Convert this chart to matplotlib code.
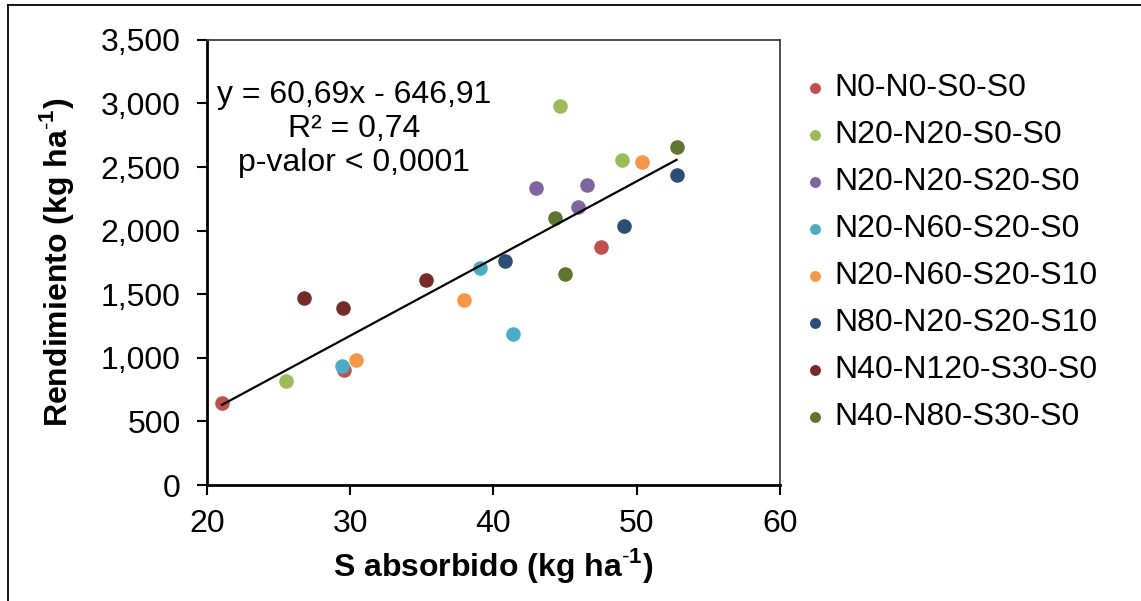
import matplotlib
matplotlib.use("Agg")
import matplotlib.pyplot as plt
from matplotlib.lines import Line2D
from matplotlib.ticker import FuncFormatter

plt.rcParams["font.family"] = ["Liberation Sans", "DejaVu Sans"]
plt.rcParams["mathtext.fontset"] = "custom"
plt.rcParams["mathtext.rm"] = "Liberation Sans"
plt.rcParams["mathtext.bf"] = "Liberation Sans:bold"

# Datos
tratamientos = ["N0-N0-S0-S0", "N20-N20-S0-S0", "N20-N20-S20-S0", "N20-N60-S20-S0",
                "N20-N60-S20-S10", "N80-N20-S20-S10", "N40-N120-S30-S0", "N40-N80-S30-S0"]
colores = ["#C0504D", "#9BBB59", "#8064A2", "#4BACC6",
           "#F79646", "#2C4D75", "#772C2A", "#5F7530"]

s_abs = [
    [21.05, 29.55, 47.5],
    [25.5, 44.65, 49.0],
    [42.95, 46.55, 45.9],
    [29.4, 39.1, 41.35],
    [30.4, 37.95, 50.4],
    [40.8, 49.15, 52.8],
    [26.8, 29.5, 35.3],
    [44.3, 45.0, 52.8],
]
rend = [
    [645, 905, 1870],
    [820, 2980, 2555],
    [2335, 2360, 2190],
    [935, 1705, 1185],
    [985, 1455, 2540],
    [1765, 2040, 2440],
    [1470, 1395, 1610],
    [2100, 1660, 2655],
]

pendiente = 60.69
intercepto = -646.91
x_min, x_max = 21.05, 52.8

fs = 23

fig = plt.figure(figsize=(11.41, 6.01), dpi=100)
ax = fig.add_axes([0.1814, 0.193, 0.502, 0.7406])

for nombre, c, xs, ys in zip(tratamientos, colores, s_abs, rend):
    ax.scatter(xs, ys, s=110, color=c, label=nombre, linewidths=0, zorder=3)

ax.plot([x_min, x_max], [pendiente * x_min + intercepto, pendiente * x_max + intercepto],
        color="black", lw=1.6, zorder=4)

ax.text(30.27, 2800, "y = 60,69x - 646,91\nR² = 0,74\np-valor < 0,0001",
        ha="center", va="center", fontsize=fs, linespacing=1.17)

ax.set_xlim(20, 60)
ax.set_ylim(0, 3500)
ax.set_xticks([20, 30, 40, 50, 60])
ax.set_yticks(range(0, 3501, 500))
ax.yaxis.set_major_formatter(FuncFormatter(lambda v, p: f"{int(v):,}"))
ax.tick_params(direction="out", length=7, width=1.5, labelsize=fs)
ax.tick_params(axis="y", pad=12)
ax.tick_params(axis="x", pad=10)

for lado in ["left", "bottom"]:
    ax.spines[lado].set_linewidth(2)
    ax.spines[lado].set_color("black")
for lado in ["top", "right"]:
    ax.spines[lado].set_linewidth(1.3)
    ax.spines[lado].set_color("#404040")

ax.set_xlabel(r"S absorbido (kg ha$^{\text{-}\mathbf{1}}$)", fontsize=fs, fontweight="bold", labelpad=5)
ax.set_ylabel(r"Rendimiento (kg ha$^{\text{-}\mathbf{1}}$)", fontsize=fs, fontweight="bold", labelpad=18)

ax.legend(loc="upper left", bbox_to_anchor=(0.681, 0.915), bbox_transform=fig.transFigure,
          frameon=False, fontsize=fs, markerscale=0.75, handletextpad=0.1,
          labelspacing=0.53, handlelength=1.0, borderpad=0.2)

# marco de la figura
fig.add_artist(Line2D([0.007, 0.007], [0, 0.992], transform=fig.transFigure, color="black", lw=1.3))
fig.add_artist(Line2D([0.007, 1], [0.992, 0.992], transform=fig.transFigure, color="black", lw=1.3))

fig.savefig("out.png", dpi=100)
